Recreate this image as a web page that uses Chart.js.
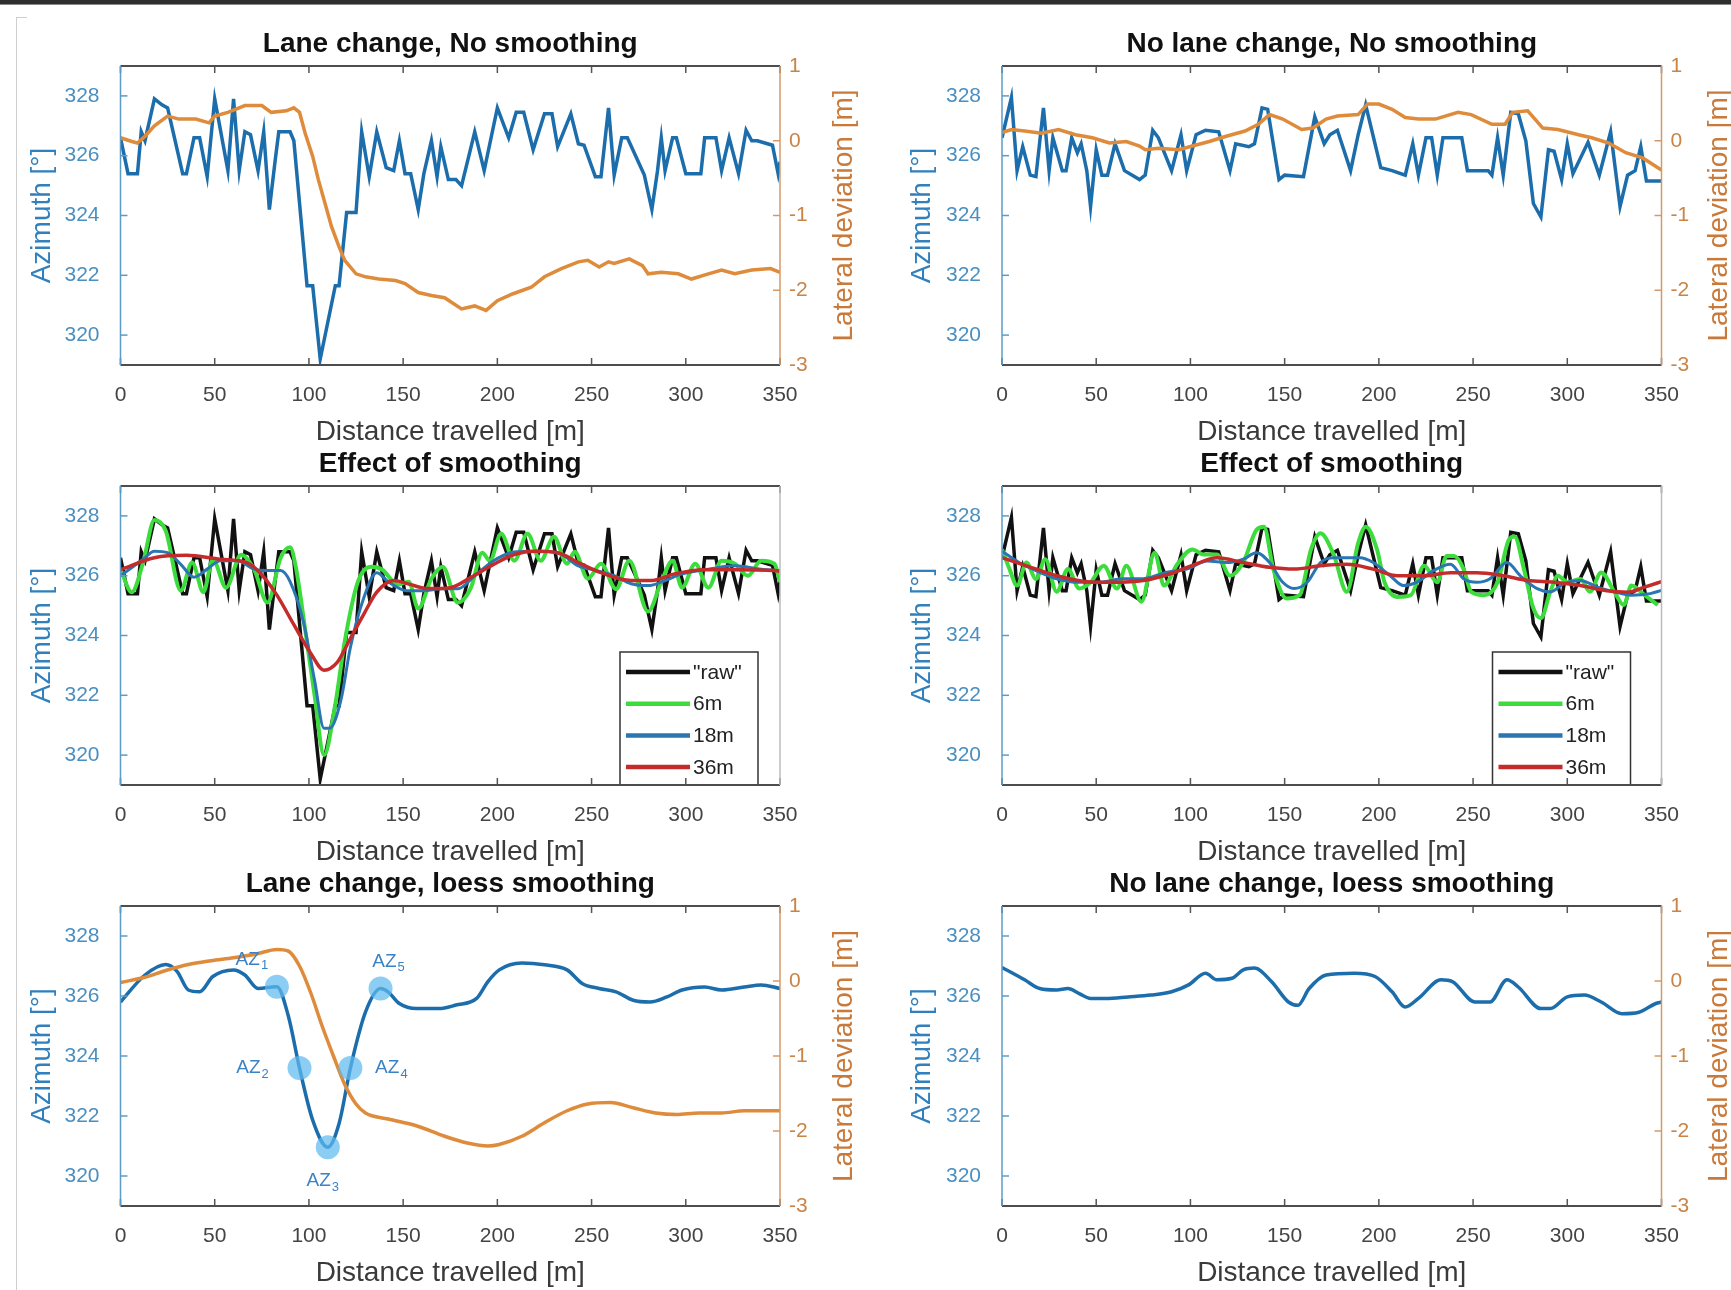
<!DOCTYPE html>
<html>
<head>
<meta charset="utf-8">
<script src="https://cdn.jsdelivr.net/npm/chart.js@4.4.1/dist/chart.umd.min.js"></script>
<style>
  html, body { margin: 0; padding: 0; background: #fff; width: 1731px; height: 1290px; overflow: hidden; }
  canvas { position: absolute; }
  #topbar { position: absolute; left: 0; top: 0; width: 1731px; height: 4px; background: #2e2e2e; border-bottom: 1px solid #8a8a8a; }
  #leftline { position: absolute; left: 16px; top: 17px; width: 1px; height: 1273px; background: #cfcfcf; }
  #corner { position: absolute; left: 16px; top: 17px; width: 11px; height: 1px; background: #cfcfcf; }
</style>
</head>
<body>
<div id="topbar"></div>
<div id="leftline"></div>
<div id="corner"></div>
<script>
const FONT = '"Liberation Sans", Arial, Helvetica, sans-serif';
Chart.defaults.font.family = FONT;

// ticks
const xTicks = [0, 50, 100, 150, 200, 250, 300, 350];
const azTicks = [320, 322, 324, 326, 328];
const latTicks = [-3, -2, -1, 0, 1];

// lane change, raw azimuth
const lcRawX = [0,4,9,11,13,18,22,25,33,35,39,42,46,50,57,60,63,66,69,73,76,79,82,84,90,92,99,102,106,114,116,120,125,128,132,136,141,145,148,151,154,158,161,165,168,170,174,178,181,188,193,200,206,210,214,219,225,229,232,239,243,246,252,255,259,262,266,269,278,282,285,287,289,293,295,300,308,310,316,319,323,328,332,335,338,346,349,350];
const lcRawAz = [326.6,325.4,325.4,326.8,326.5,327.9,327.7,327.6,325.4,325.4,326.6,326.6,325.3,327.9,325.5,327.9,325.5,326.8,326.7,325.5,326.8,324.2,325.8,326.8,326.8,326.5,321.65,321.65,319.2,321.65,321.65,324.1,324.1,326.8,325.3,326.8,325.6,325.5,326.5,325.4,325.4,324.2,325.4,326.5,325.3,326.3,325.2,325.2,325.0,326.8,325.5,327.6,326.6,327.45,327.45,326.2,327.4,327.4,326.3,327.4,326.4,326.35,325.3,325.3,327.6,325.35,326.6,326.6,325.35,324.2,325.5,326.6,325.5,326.6,326.6,325.4,325.4,326.6,326.6,325.5,326.6,325.4,326.85,326.5,326.5,326.35,325.4,325.8];

// lane change, raw lateral deviation
const lcLatX = [0,6,9,13,18,25,31,40,47,50,57,66,75,80,88,92,95,98,102,105,109,112,116,119,125,130,137,146,151,158,165,172,181,188,194,200,208,218,225,234,243,248,254,259,262,270,277,280,287,296,303,312,319,326,335,345,350];
const lcLat = [0.04,-0.01,-0.03,0.06,0.2,0.33,0.29,0.29,0.24,0.33,0.38,0.47,0.47,0.38,0.4,0.44,0.38,0.1,-0.21,-0.52,-0.88,-1.15,-1.42,-1.6,-1.78,-1.82,-1.85,-1.87,-1.91,-2.03,-2.07,-2.1,-2.25,-2.21,-2.27,-2.14,-2.05,-1.96,-1.82,-1.71,-1.62,-1.6,-1.69,-1.62,-1.64,-1.58,-1.67,-1.78,-1.76,-1.78,-1.85,-1.78,-1.73,-1.78,-1.73,-1.71,-1.76];

// no lane change, raw azimuth
const nlcRawX = [0,5,8,11,15,18,22,25,27,32,34,37,40,42,45,47,50,53,56,60,65,73,76,80,83,90,95,98,103,108,115,121,124,131,134,138,141,147,150,160,166,171,174,178,185,189,193,201,207,214,218,221,225,228,231,234,244,247,258,260,263,266,270,274,278,282,286,290,293,297,300,303,311,317,323,328,332,336,339,342,350];
const nlcRawAz = [326.6,327.95,325.5,326.3,325.35,325.3,327.6,325.5,326.6,325.5,325.5,326.6,326.1,326.4,325.5,324.3,326.2,325.35,325.35,326.4,325.5,325.2,325.35,326.85,326.6,325.5,326.7,325.5,326.7,326.85,326.8,325.5,326.4,326.3,326.4,327.6,327.55,325.2,325.35,325.3,327.3,326.4,326.7,326.85,325.5,326.7,327.7,325.6,325.5,325.35,326.4,325.35,326.6,326.6,325.35,326.6,326.6,325.5,325.5,325.35,326.6,325.35,327.45,327.4,326.5,324.4,323.95,326.2,326.15,325.2,326.4,325.4,326.45,325.35,326.8,324.3,325.35,325.5,326.3,325.15,325.15];

// no lane change, raw lateral deviation
const nlcLatX = [0,5,12,21,30,39,48,57,66,73,76,83,94,101,110,119,129,136,142,149,159,165,172,178,189,194,200,207,214,221,230,242,249,260,267,271,279,287,295,306,313,322,331,340,350];
const nlcLat = [0.11,0.15,0.13,0.10,0.15,0.08,0.04,-0.03,-0.01,-0.07,-0.12,-0.10,-0.12,-0.07,-0.01,0.06,0.13,0.22,0.35,0.29,0.15,0.17,0.29,0.33,0.35,0.49,0.49,0.42,0.31,0.29,0.29,0.38,0.35,0.22,0.22,0.38,0.40,0.17,0.15,0.08,0.04,-0.03,-0.16,-0.23,-0.39];

// lane change, moving-window smoothing
const lc6X = [0,6,12,18,24,32,38,44,49,56,64,71,78,85,90,93,98,103,108,114,119,126,133,139,147,153,158,165,171,179,186,192,196,202,209,216,223,230,237,241,248,255,263,270,280,287,293,298,305,312,319,326,333,340,347,350];
const lc6 = [326.2,325.45,326.44,327.86,327.5,325.5,326.44,325.45,326.55,325.6,326.7,326.2,325.1,326.6,326.95,326.3,324.2,322.0,320.0,321.7,323.8,325.8,326.3,326.2,325.7,325.8,324.9,325.9,326.3,325.1,325.6,326.77,326.5,327.4,326.5,327.4,326.5,327.3,326.4,326.8,325.9,326.4,325.55,326.5,324.8,325.8,326.5,325.6,326.4,325.6,326.5,326.4,326.0,326.5,326.4,325.8];
const lc18X = [0,12,18,25,32,39,46,53,62,71,78,85,90,97,103,108,111,117,122,129,136,142,152,161,170,179,188,198,207,216,225,234,243,253,262,271,280,289,298,312,326,340,350];
const lc18 = [326.0,326.55,326.82,326.77,326.38,325.95,326.22,326.5,326.5,326.22,326.17,326.17,325.8,324.47,322.5,320.9,320.9,321.85,323.6,325.24,326.1,325.8,325.5,325.5,325.56,325.56,326.0,326.5,326.77,326.82,326.82,326.71,326.33,326.17,326.0,325.73,325.67,325.84,326.06,326.22,326.33,326.22,326.17];
const lc36X = [0,18,35,53,67,74,83,92,101,108,115,122,129,136,145,154,163,175,186,198,209,220,232,243,255,271,282,294,310,326,347,350];
const lc36 = [326.2,326.6,326.68,326.55,326.44,326.1,325.35,324.36,323.4,322.84,323.1,323.9,324.7,325.45,325.84,325.7,325.57,325.6,325.95,326.38,326.71,326.82,326.77,326.44,326.1,325.84,325.84,326.06,326.2,326.2,326.17,326.15];

// no lane change, moving-window smoothing
const nlc6X = [0,4,8,13,18,23,29,35,41,47,54,61,66,74,81,86,93,101,107,114,121,128,135,139,144,151,158,164,169,176,183,189,193,199,203,210,217,224,231,236,240,245,249,256,263,269,272,277,282,286,291,295,300,307,312,318,325,330,334,341,348];
const nlc6 = [326.88,326.22,325.67,326.44,325.89,326.55,325.46,326.22,325.57,325.78,326.33,325.57,326.33,325.13,326.77,325.67,326.38,326.88,326.71,326.71,326.0,326.44,327.53,327.64,326.22,325.24,325.35,326.88,327.42,326.71,325.46,327.09,327.64,326.88,325.78,325.29,325.35,326.33,325.78,326.66,326.66,326.22,325.46,325.35,325.78,327.2,327.31,326.22,324.91,324.58,325.46,326.0,325.78,325.89,325.46,326.11,325.46,325.02,325.67,325.35,325.02];
const nlc18X = [0,9,18,29,41,52,64,75,87,98,109,119,128,135,142,149,155,162,169,176,183,190,197,206,213,220,229,238,245,252,259,268,275,284,291,298,307,316,325,334,344,350];
const nlc18 = [326.82,326.44,326.17,325.9,325.78,325.78,325.9,325.9,326.11,326.22,326.49,326.44,326.55,326.77,326.44,325.78,325.57,325.78,326.44,326.6,326.6,326.6,326.44,326.0,325.67,325.78,326.17,326.38,325.9,325.78,325.9,326.44,326.0,325.57,325.46,325.73,325.84,325.62,325.46,325.35,325.4,325.51];
const nlc36X = [0,13,29,45,59,75,91,105,114,128,142,155,169,183,197,210,224,238,252,266,279,293,307,321,332,341,350];
const nlc36 = [326.6,326.33,326.0,325.8,325.78,325.84,326.1,326.44,326.6,326.44,326.28,326.22,326.33,326.38,326.22,326.0,326.0,326.1,326.1,326.0,325.84,325.78,325.67,325.5,325.45,325.62,325.8];

// loess smoothing
const lcLoessX = [0,13,24,30,36,42,49,60,66,73,83,89,95,102,110,116,122,130,138,142,148,157,169,178,189,195,201,213,225,237,245,254,263,272,281,290,298,310,319,331,340,350];
const lcLoess = [325.8,326.7,327.05,326.82,326.2,326.14,326.65,326.87,326.7,326.25,326.31,325.35,323.6,321.86,320.96,321.75,323.6,325.46,326.25,326.14,325.75,325.58,325.58,325.7,325.92,326.48,326.87,327.1,327.04,326.87,326.42,326.25,326.14,325.86,325.8,325.97,326.2,326.3,326.2,326.3,326.37,326.25];
const lcLatLoessX = [0,13,24,36,48,60,72,83,89,95,101,107,113,119,125,130,142,157,172,184,195,201,213,225,237,248,260,272,284,295,307,319,331,350];
const lcLatLoess = [-0.02,0.05,0.14,0.22,0.27,0.31,0.36,0.42,0.4,0.2,-0.16,-0.6,-1.0,-1.38,-1.64,-1.76,-1.84,-1.93,-2.07,-2.16,-2.2,-2.18,-2.07,-1.89,-1.73,-1.64,-1.62,-1.69,-1.76,-1.78,-1.76,-1.76,-1.73,-1.73];
const nlcLoessX = [0,12,20,29,35,41,47,55,67,79,90,99,108,114,122,128,134,143,152,157,163,172,187,198,207,214,221,233,239,251,259,268,274,286,291,300,309,318,329,338,347,350];
const nlcLoess = [326.95,326.54,326.25,326.2,326.25,326.08,325.92,325.92,325.97,326.03,326.14,326.37,326.76,326.54,326.59,326.87,326.93,326.48,325.8,325.69,326.25,326.7,326.76,326.65,326.14,325.63,325.92,326.54,326.48,325.8,325.8,326.54,326.3,325.58,325.58,325.97,326.03,325.8,325.41,325.46,325.75,325.8];

// marked azimuth points on the lane change curve
const azIndex = ['1', '2', '3', '4', '5'];
const azMarkX = [83, 95, 110, 122, 138];
const azMarkY = [326.31, 323.6, 320.96, 323.6, 326.25];

// layout (page pixels)
const colL = [120.5, 1002], colR = [780, 1661.5];
const rowT = [66, 486, 906], rowB = [365, 785, 1206];
const canvasL = [0, 880], canvasW = [870, 851];
const rightTitleGap = [64, 58];
const azLabelDX = [-22, -44, -2, 44, 11], azLabelDY = [-27, 0, 34, 0, -27];

const BLUE = '#1c6dab', ORANGE = '#de8b3b';
const AXBLUE = '#5b9bc8', AXORANGE = '#d39a68';

function pts(xs, ys) { return xs.map((x, i) => ({ x: x, y: ys[i] })); }

function ds(label, xs, ys, color, width, axis, order, smooth) {
  return {
    label: label, data: pts(xs, ys), borderColor: color, backgroundColor: color,
    borderWidth: width, pointRadius: 0, yAxisID: axis, order: order, fill: false,
    tension: 0, cubicInterpolationMode: smooth ? 'monotone' : 'default'
  };
}

function panelPlugin(p) {
  return {
    id: 'panel' + p.row + p.col,
    afterDatasetsDraw(chart) {
      const ctx = chart.ctx, a = chart.chartArea;
      const sx = chart.scales.x, sy = chart.scales.y, sr = chart.scales.y2;
      ctx.save();
      if (p.legend) {
        const bw = 138, bh = 133;
        const bx = a.right - p.legendRight - bw, by = a.bottom - bh;
        ctx.fillStyle = '#fff';
        ctx.fillRect(bx, by, bw, bh);
        ctx.strokeStyle = '#333';
        ctx.lineWidth = 1.5;
        ctx.strokeRect(bx, by, bw, bh);
        ctx.font = '21px ' + FONT;
        ctx.textAlign = 'left';
        ctx.textBaseline = 'middle';
        chart.data.datasets.forEach((d, i) => {
          const yy = by + 20 + i * 31.7;
          ctx.strokeStyle = d.borderColor;
          ctx.lineWidth = 4.5;
          ctx.beginPath(); ctx.moveTo(bx + 6, yy); ctx.lineTo(bx + 70, yy); ctx.stroke();
          ctx.fillStyle = '#222';
          ctx.fillText(d.label, bx + 73, yy + 1);
        });
      }
      if (p.marks !== undefined) {
        const meta = chart.getDatasetMeta(p.marks);
        ctx.fillStyle = '#3b82c4';
        ctx.textBaseline = 'middle';
        meta.data.forEach((pt, i) => {
          const cx = pt.x + azLabelDX[i], cy = pt.y + azLabelDY[i];
          ctx.font = '19px ' + FONT;
          ctx.textAlign = 'right';
          ctx.fillText('AZ', cx + 5, cy);
          ctx.font = '13px ' + FONT;
          ctx.textAlign = 'left';
          ctx.fillText(azIndex[i], cx + 6, cy + 6);
        });
      }
      // inward tick marks
      ctx.lineWidth = 1.5;
      ctx.strokeStyle = '#555';
      xTicks.forEach(v => {
        const px = sx.getPixelForValue(v);
        ctx.beginPath();
        ctx.moveTo(px, a.bottom); ctx.lineTo(px, a.bottom - 7);
        ctx.moveTo(px, a.top); ctx.lineTo(px, a.top + 7);
        ctx.stroke();
      });
      ctx.strokeStyle = AXBLUE;
      azTicks.forEach(v => {
        const py = sy.getPixelForValue(v);
        ctx.beginPath(); ctx.moveTo(a.left, py); ctx.lineTo(a.left + 7, py); ctx.stroke();
      });
      if (sr) {
        ctx.strokeStyle = AXORANGE;
        latTicks.forEach(v => {
          const py = sr.getPixelForValue(v);
          ctx.beginPath(); ctx.moveTo(a.right, py); ctx.lineTo(a.right - 7, py); ctx.stroke();
        });
      }
      // box
      ctx.lineWidth = 2;
      ctx.strokeStyle = '#4d4d4d';
      ctx.beginPath();
      ctx.moveTo(a.left, a.top); ctx.lineTo(a.right, a.top);
      ctx.moveTo(a.left, a.bottom); ctx.lineTo(a.right, a.bottom);
      ctx.stroke();
      ctx.lineWidth = 1.5;
      ctx.strokeStyle = AXBLUE;
      ctx.beginPath(); ctx.moveTo(a.left, a.top); ctx.lineTo(a.left, a.bottom); ctx.stroke();
      ctx.strokeStyle = sr ? AXORANGE : '#bbbbbb';
      ctx.beginPath(); ctx.moveTo(a.right, a.top); ctx.lineTo(a.right, a.bottom); ctx.stroke();
      ctx.restore();
    },
    afterDraw(chart) {
      const ctx = chart.ctx, a = chart.chartArea;
      ctx.save();
      ctx.font = 'bold 28px ' + FONT;
      ctx.fillStyle = '#111';
      ctx.textAlign = 'center';
      ctx.textBaseline = 'middle';
      ctx.fillText(p.title, (a.left + a.right) / 2, a.top - 22);
      if (p.right) {
        ctx.translate(a.right + rightTitleGap[p.col], (a.top + a.bottom) / 2);
        ctx.rotate(-Math.PI / 2);
        ctx.font = '28px ' + FONT;
        ctx.fillStyle = '#c97a3a';
        ctx.fillText('Lateral deviation [m]', 0, 0);
      }
      ctx.restore();
    }
  };
}

function makeChart(p) {
  const L = canvasL[p.col], W = canvasW[p.col];
  const T = rowT[p.row] - 56, H = rowB[p.row] + 84 - T;
  const plotL = colL[p.col], plotR = colR[p.col], plotB = rowB[p.row];
  const cv = document.createElement('canvas');
  cv.width = W; cv.height = H;
  cv.style.left = L + 'px'; cv.style.top = T + 'px';
  cv.style.width = W + 'px'; cv.style.height = H + 'px';
  document.body.appendChild(cv);

  const scales = {
    x: {
      type: 'linear', position: 'bottom', min: 0, max: 350,
      afterBuildTicks: s => { s.ticks = xTicks.map(v => ({ value: v })); },
      afterFit: s => { s.height = T + H - plotB; },
      grid: { display: false, drawTicks: false },
      border: { display: false },
      ticks: { color: '#444', font: { size: 21 }, padding: 18, maxRotation: 0, autoSkip: false },
      title: { display: true, text: 'Distance travelled [m]', color: '#3a3a3a', font: { size: 28 }, padding: { top: 0, bottom: 0 } }
    },
    y: {
      type: 'linear', position: 'left', min: 319, max: 329,
      afterBuildTicks: s => { s.ticks = azTicks.map(v => ({ value: v })); },
      afterFit: s => { s.width = plotL - L; },
      grid: { display: false, drawTicks: false },
      border: { display: false },
      ticks: { color: '#4a8fc0', font: { size: 21 }, padding: 21 },
      title: { display: true, text: 'Azimuth [\u00b0]', color: '#2f80bd', font: { size: 28 }, padding: { top: 25, bottom: 0 } }
    }
  };
  if (p.right) {
    scales.y2 = {
      type: 'linear', position: 'right', min: -3, max: 1,
      afterBuildTicks: s => { s.ticks = latTicks.map(v => ({ value: v })); },
      afterFit: s => { s.width = L + W - plotR; },
      grid: { display: false, drawTicks: false },
      border: { display: false },
      ticks: { color: '#c98446', font: { size: 21 }, padding: 9 }
    };
  }

  new Chart(cv, {
    type: 'line',
    data: { datasets: p.datasets },
    options: {
      responsive: false,
      animation: false,
      events: [],
      layout: { padding: { top: 56, left: 0, bottom: 0, right: p.right ? 0 : L + W - plotR } },
      plugins: { legend: { display: false }, tooltip: { enabled: false }, title: { display: false } },
      scales: scales
    },
    plugins: [panelPlugin(p)]
  });
}

makeChart({
  row: 0, col: 0, right: true, title: 'Lane change, No smoothing',
  datasets: [ds('Azimuth', lcRawX, lcRawAz, BLUE, 3.5, 'y', 2, false), ds('Lateral deviation', lcLatX, lcLat, ORANGE, 3.5, 'y2', 1, false)]
});
makeChart({
  row: 0, col: 1, right: true, title: 'No lane change, No smoothing',
  datasets: [ds('Azimuth', nlcRawX, nlcRawAz, BLUE, 3.5, 'y', 2, false), ds('Lateral deviation', nlcLatX, nlcLat, ORANGE, 3.5, 'y2', 1, false)]
});
makeChart({
  row: 1, col: 0, right: false, title: 'Effect of smoothing', legend: true, legendRight: 22,
  datasets: [
    ds('"raw"', lcRawX, lcRawAz, '#111111', 3.5, 'y', 4, false),
    ds('6m', lc6X, lc6, '#3ddc3d', 4, 'y', 3, true),
    ds('18m', lc18X, lc18, '#2a76b3', 3, 'y', 2, true),
    ds('36m', lc36X, lc36, '#c42b2b', 3.5, 'y', 1, true)
  ]
});
makeChart({
  row: 1, col: 1, right: false, title: 'Effect of smoothing', legend: true, legendRight: 31,
  datasets: [
    ds('"raw"', nlcRawX, nlcRawAz, '#111111', 3.5, 'y', 4, false),
    ds('6m', nlc6X, nlc6, '#3ddc3d', 4, 'y', 3, true),
    ds('18m', nlc18X, nlc18, '#2a76b3', 3, 'y', 2, true),
    ds('36m', nlc36X, nlc36, '#c42b2b', 3.5, 'y', 1, true)
  ]
});
makeChart({
  row: 2, col: 0, right: true, title: 'Lane change, loess smoothing', marks: 2,
  datasets: [
    ds('Azimuth', lcLoessX, lcLoess, BLUE, 3.5, 'y', 2, true),
    ds('Lateral deviation', lcLatLoessX, lcLatLoess, ORANGE, 3.5, 'y2', 1, true),
    {
      label: 'AZ', data: pts(azMarkX, azMarkY), yAxisID: 'y', order: 0, showLine: false,
      pointRadius: 12, pointBorderWidth: 0, pointBackgroundColor: 'rgba(96,186,238,0.72)',
      borderColor: 'rgba(0,0,0,0)'
    }
  ]
});
makeChart({
  row: 2, col: 1, right: true, title: 'No lane change, loess smoothing',
  datasets: [ds('Azimuth', nlcLoessX, nlcLoess, BLUE, 3.5, 'y', 2, true)]
});
</script>
</body>
</html>
